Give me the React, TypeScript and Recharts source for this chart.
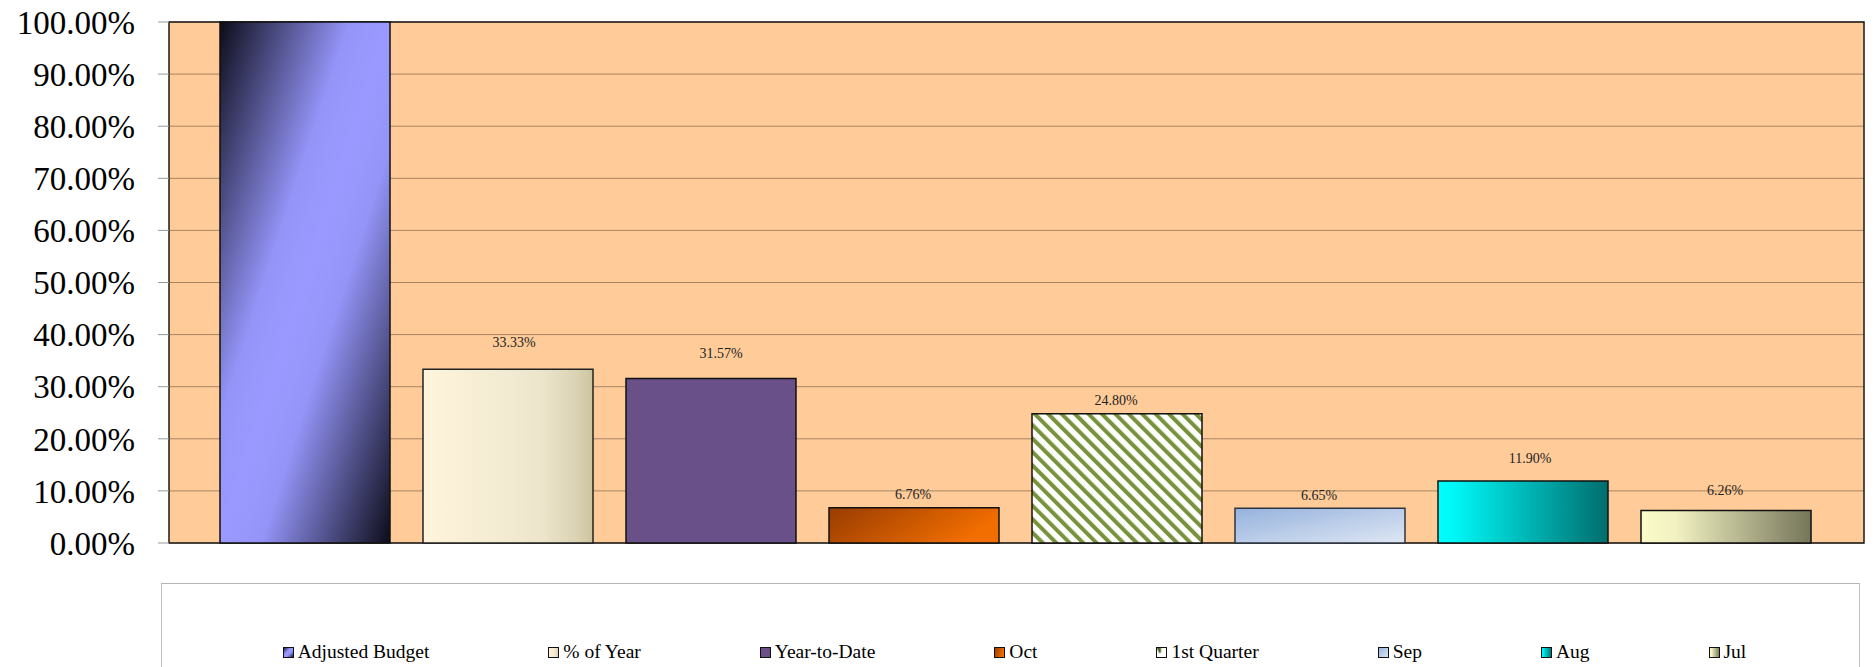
import React from 'react';
import { BarChart, Bar, XAxis, YAxis, CartesianGrid, ReferenceArea, LabelList, Legend } from 'recharts';

const categories = ['Budget'];
const seriesNames = ['Adjusted Budget', '% of Year', 'Year-to-Date', 'Oct', '1st Quarter', 'Sep', 'Aug', 'Jul'];
const seriesValues = [100, 33.33, 31.57, 6.76, 24.8, 6.65, 11.9, 6.26];
const yTicks = [0, 10, 20, 30, 40, 50, 60, 70, 80, 90, 100];

const fills = ['url(#g0)', 'url(#g1)', '#6a5089', 'url(#g3)', 'url(#p4)', 'url(#g5)', 'url(#g6)', 'url(#g7)'];
const legendFills = ['url(#g0)', 'url(#g1)', '#6a5089', 'url(#g3)', 'url(#p4l)', 'url(#g5)', 'url(#g6)', 'url(#g7)'];
const strokes = ['#111', '#222', '#111', '#111', '#111', '#2e3440', '#111', '#111'];
const labelOffsets: ({ dx: number; dy: number } | null)[] = [
  null,
  { dx: 6, dy: 27 },
  { dx: 10, dy: 26 },
  { dx: -1, dy: 14 },
  { dx: -1, dy: 13.5 },
  { dx: -1, dy: 13.5 },
  { dx: 7, dy: 23 },
  { dx: -1, dy: 20 },
];

const data = categories.map((c) => {
  const row: any = { name: c };
  seriesValues.forEach((v, i) => {
    row['s' + i] = v;
  });
  return row;
});

const FONT = '"Liberation Serif", "Times New Roman", serif';

const makeLabel = (i: number) => (props: any) => {
  const off = labelOffsets[i];
  if (!off) return null;
  const { x, y, width, value } = props;
  return (
    <text
      x={Number(x) + Number(width) / 2 + off.dx}
      y={Number(y) - off.dy + 5}
      textAnchor="middle"
      fontFamily={FONT}
      fontSize={14}
      fill="#222"
    >
      {Number(value).toFixed(2) + '%'}
    </text>
  );
};

const LegendContent = () => (
  <div
    style={{
      position: 'relative',
      width: '100%',
      height: '100%',
      boxSizing: 'border-box',
      borderTop: '1px solid #b5b5b5',
      borderLeft: '1px solid #c0c0c0',
      borderRight: '1px solid #c0c0c0',
      background: '#fff',
      fontFamily: FONT,
    }}
  >
    <div
      style={{
        position: 'absolute',
        left: 8,
        right: 0,
        top: 58,
        display: 'flex',
        justifyContent: 'center',
        alignItems: 'center',
        gap: 119,
        fontFamily: FONT,
        fontSize: 19.5,
        lineHeight: '20px',
        color: '#000',
        whiteSpace: 'nowrap',
      }}
    >
      {seriesNames.map((n, i) => (
        <div key={n} style={{ display: 'flex', alignItems: 'center' }}>
          <svg width={11} height={11} style={{ marginRight: 4, display: 'block' }}>
            <rect x={0.5} y={0.5} width={10} height={10} fill={legendFills[i]} stroke="#111" strokeWidth={1} />
          </svg>
          <span style={{ fontFamily: FONT }}>{n}</span>
        </div>
      ))}
    </div>
  </div>
);

export default function App() {
  return (
    <div style={{ position: 'absolute', left: 0, top: 0, width: 1875, height: 667, overflow: 'hidden', background: '#fff' }}>
      <BarChart
        width={1875}
        height={667}
        data={data}
        margin={{ top: 22, right: 11, bottom: 124, left: 0 }}
        barCategoryGap={51}
        barGap={33}
      >
        <defs>
          <linearGradient id="g0" x1="0" y1="0" x2="1" y2="1">
            <stop offset="0" stopColor="#0c0c1a" />
            <stop offset="0.38" stopColor="#9494f8" />
            <stop offset="0.5" stopColor="#9999ff" />
            <stop offset="0.62" stopColor="#9494f8" />
            <stop offset="1" stopColor="#0c0c1a" />
          </linearGradient>
          <linearGradient id="g1" x1="0" y1="0" x2="1" y2="0">
            <stop offset="0" stopColor="#fff4dc" />
            <stop offset="0.4" stopColor="#f5ecd4" />
            <stop offset="0.7" stopColor="#ece5cc" />
            <stop offset="0.9" stopColor="#dbd3b3" />
            <stop offset="1" stopColor="#cdc3a0" />
          </linearGradient>
          <linearGradient id="g3" x1="0" y1="0" x2="1" y2="0.3">
            <stop offset="0" stopColor="#983c02" />
            <stop offset="1" stopColor="#f26e00" />
          </linearGradient>
          <pattern id="p4" patternUnits="userSpaceOnUse" width={9.5} height={9.5} patternTransform="rotate(-45)">
            <rect x={0} y={0} width={9.5} height={9.5} fill="#ffffff" />
            <rect x={0} y={0} width={4} height={9.5} fill="#77933c" />
          </pattern>
          <pattern id="p4l" patternUnits="objectBoundingBox" patternContentUnits="objectBoundingBox" width={1} height={1}>
            <rect x={0} y={0} width={1} height={1} fill="#ffffff" />
            <polygon points="0,0 0.45,0 0.45,0.45 0.3,0.6" fill="#4f6228" />
          </pattern>
          <linearGradient id="g5" x1="0" y1="0" x2="1" y2="1">
            <stop offset="0" stopColor="#95b2dd" />
            <stop offset="1" stopColor="#dfe7f4" />
          </linearGradient>
          <linearGradient id="g6" x1="0" y1="0" x2="1" y2="0">
            <stop offset="0" stopColor="#00ffff" />
            <stop offset="0.1" stopColor="#00f6f6" />
            <stop offset="1" stopColor="#006d6d" />
          </linearGradient>
          <linearGradient id="g7" x1="0" y1="0" x2="1" y2="0">
            <stop offset="0" stopColor="#fbfbc9" />
            <stop offset="0.2" stopColor="#f2f2c2" />
            <stop offset="1" stopColor="#75755a" />
          </linearGradient>
        </defs>
        <CartesianGrid vertical={false} stroke="#a88462" fill="#ffcc99" fillOpacity={1} />
        <XAxis dataKey="name" hide padding={{ left: 0, right: 0 }} />
        <YAxis
          width={169}
          domain={[0, 100]}
          ticks={yTicks}
          interval={0}
          axisLine={false}
          tickLine={{ stroke: '#999' }}
          tickSize={11}
          tickMargin={23}
          tick={{ fontFamily: FONT, fontSize: 33, fill: '#000' }}
          tickFormatter={(v: number) => v.toFixed(2) + '%'}
        />
        {seriesNames.map((n, i) => (
          <Bar
            key={n}
            dataKey={'s' + i}
            name={n}
            fill={fills[i]}
            stroke={strokes[i]}
            strokeWidth={1.5}
            isAnimationActive={false}
          >
            <LabelList dataKey={'s' + i} content={makeLabel(i)} />
          </Bar>
        ))}
        <ReferenceArea y1={0} y2={100} fill="none" stroke="#1a1a1a" strokeWidth={1.5} ifOverflow="visible" />
        <Legend
          layout="horizontal"
          verticalAlign="middle"
          align="center"
          wrapperStyle={{ left: 161, top: 583, width: 1699, height: 84, fontFamily: FONT }}
          content={() => <LegendContent />}
        />
      </BarChart>
    </div>
  );
}
